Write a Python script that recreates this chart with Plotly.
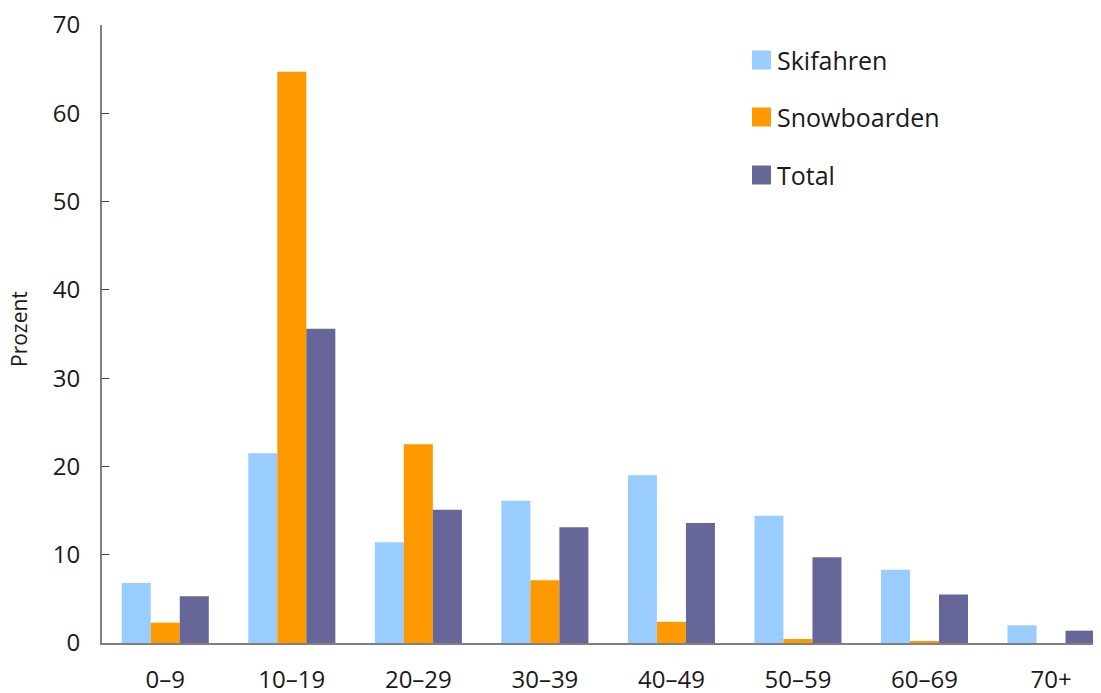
import plotly.graph_objects as go

categories = ["0–9", "10–19", "20–29", "30–39", "40–49", "50–59", "60–69", "70+"]
skifahren = [6.8, 21.5, 11.4, 16.1, 19.0, 14.4, 8.3, 2.0]
snowboarden = [2.3, 64.7, 22.5, 7.1, 2.4, 0.45, 0.15, 0.0]
total = [5.3, 35.6, 15.1, 13.1, 13.6, 9.7, 5.5, 1.4]
series_names = ["Skifahren", "Snowboarden", "Total"]
colors = ["#99CCFF", "#FF9900", "#666699"]
y_ticks = [0, 10, 20, 30, 40, 50, 60, 70]

FONT = "Open Sans"
TXT = "#1a1a1a"

fig = go.Figure()
for name, vals, col in zip(series_names, [skifahren, snowboarden, total], colors):
    fig.add_trace(go.Bar(name=name, x=categories, y=vals, marker_color=col,
                         marker_line_width=0, showlegend=False))

# manual legend (paper coords; plot area spans x 102..1101, y 25..643 px of the page)
leg_y = [60, 117, 175]
for name, col, yy in zip(series_names, colors, leg_y):
    fig.add_shape(type="rect", xref="paper", yref="paper",
                  x0=(752 - 102) / 999, x1=(771 - 102) / 999,
                  y0=(643 - (yy + 9.5)) / 618, y1=(643 - (yy - 9.5)) / 618,
                  fillcolor=col, line_width=0)
    fig.add_annotation(text=name, xref="paper", yref="paper",
                       x=(775 - 102) / 999, y=(643 - yy) / 618,
                       xanchor="left", yanchor="middle", showarrow=False,
                       font=dict(family=FONT, size=25, color=TXT))

fig.add_annotation(text="Prozent", xref="paper", yref="paper",
                   x=(19 - 102) / 999, y=(643 - 329) / 618,
                   xanchor="center", yanchor="middle", showarrow=False, textangle=-90,
                   font=dict(family=FONT, size=21, color=TXT))

# page body has an 8px margin, so the figure is sized/offset to compensate
fig.update_layout(
    width=1093, height=685,
    margin=dict(l=94, r=0, t=17, b=50),
    paper_bgcolor="white", plot_bgcolor="white",
    barmode="group", bargap=0.312, bargroupgap=0,
    font=dict(family=FONT, size=24, color=TXT),
    xaxis=dict(range=[-0.5, 7.395], showline=True, linecolor="#808080", linewidth=2,
               ticks="", showgrid=False, ticklabelstandoff=14, automargin=False,
               ticklabeloverflow="allow",
               tickfont=dict(family=FONT, size=24, color=TXT)),
    yaxis=dict(range=[0, 70], tickvals=y_ticks, showline=True, linecolor="#808080",
               linewidth=2, ticks="inside", ticklen=7, tickcolor="#404040",
               showgrid=False, zeroline=False, ticklabelstandoff=15, automargin=False,
               ticklabeloverflow="allow",
               tickfont=dict(family=FONT, size=24, color=TXT)),
)

fig.write_html("out.html")
